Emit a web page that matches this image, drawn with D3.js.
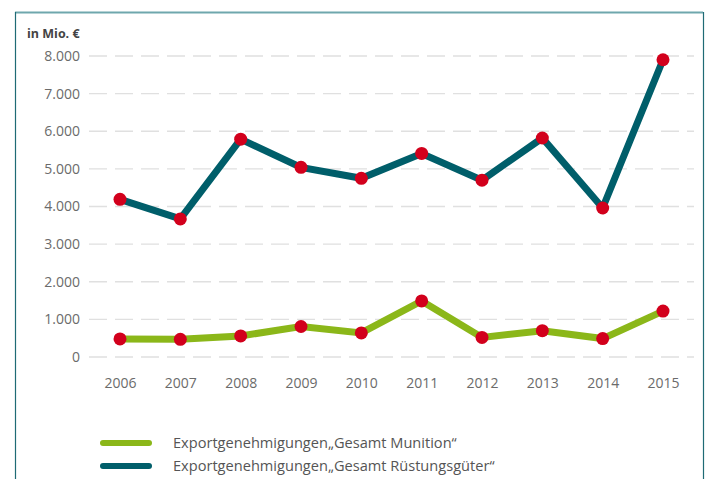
<!DOCTYPE html>
<html>
<head>
<meta charset="utf-8">
<script src="https://cdn.jsdelivr.net/npm/d3@7"></script>
<style>
    body { margin: 0; background: #fff; }
    text { font-family: "Open Sans", "Noto Sans", sans-serif; }
</style>
</head>
<body>
<div id="chart"></div>
<script>
// chart data
var years = ["2006", "2007", "2008", "2009", "2010", "2011", "2012", "2013", "2014", "2015"];
var munition = [480, 470, 560, 810, 640, 1490, 520, 700, 490, 1220];
var ruestung = [4190, 3670, 5790, 5040, 4750, 5410, 4700, 5820, 3960, 7900];
var yTicks = [0, 1000, 2000, 3000, 4000, 5000, 6000, 7000, 8000];
var legendLabels = ["Exportgenehmigungen\u201EGesamt Munition\u201C", "Exportgenehmigungen\u201EGesamt R\u00FCstungsg\u00FCter\u201C"];

(function () {
    var width = 707, height = 479;
    var green = "#8bb719", teal = "#005e6a", red = "#d2001c";

    var svg = d3.select("#chart").append("svg")
        .attr("width", width)
        .attr("height", height);

    // frame
    svg.append("line").attr("x1", 15).attr("x2", 703).attr("y1", 12.5).attr("y2", 12.5)
        .attr("stroke", "#6fa7ad").attr("stroke-width", 2);
    svg.append("line").attr("x1", 15.5).attr("x2", 15.5).attr("y1", 12).attr("y2", height)
        .attr("stroke", "#1f6b75").attr("stroke-width", 1.2);
    svg.append("line").attr("x1", 703.5).attr("x2", 703.5).attr("y1", 12).attr("y2", height)
        .attr("stroke", "#1f6b75").attr("stroke-width", 1.2);

    var x = d3.scalePoint().domain(years).range([120, 663]);
    var y = d3.scaleLinear().domain([0, 8000]).range([357, 56]);

    // grid
    svg.append("g").selectAll("line")
        .data(yTicks)
        .enter().append("line")
        .attr("x1", 89).attr("x2", 694)
        .attr("y1", function (d) { return y(d); })
        .attr("y2", function (d) { return y(d); })
        .attr("stroke", "#e0e0e0")
        .attr("stroke-width", 1.4)
        .attr("stroke-dasharray", "18,8");

    // y axis labels
    var yAxis = d3.axisLeft(y).tickValues(yTicks).tickSize(0).tickPadding(0)
        .tickFormat(function (d) { return d3.format(",")(d).replace(",", "."); });
    var gy = svg.append("g").attr("transform", "translate(80,0)").call(yAxis);
    gy.select(".domain").remove();
    gy.selectAll("text").attr("fill", "#6b6b6b").style("font-size", "14px")
        .style("font-family", "'Open Sans', sans-serif");

    // x axis labels
    var xAxis = d3.axisBottom(x).tickSize(0).tickPadding(0);
    var gx = svg.append("g").attr("transform", "translate(0,378)").call(xAxis);
    gx.select(".domain").remove();
    gx.selectAll("text").attr("fill", "#6b6b6b").style("font-size", "14px")
        .style("font-family", "'Open Sans', sans-serif");

    svg.append("text")
        .attr("x", 27).attr("y", 38)
        .attr("fill", "#444")
        .style("font-size", "12.5px")
        .style("font-weight", "bold")
        .text("in Mio. \u20AC");

    var line = d3.line()
        .x(function (d, i) { return x(years[i]); })
        .y(function (d) { return y(d); });

    var series = [{values: munition, color: green}, {values: ruestung, color: teal}];

    series.forEach(function (s) {
        svg.append("path")
            .datum(s.values)
            .attr("fill", "none")
            .attr("stroke", s.color)
            .attr("stroke-width", 7)
            .attr("stroke-linejoin", "miter")
            .attr("d", line);
    });

    series.forEach(function (s) {
        svg.append("g").selectAll("circle")
            .data(s.values)
            .enter().append("circle")
            .attr("cx", function (d, i) { return x(years[i]); })
            .attr("cy", function (d) { return y(d); })
            .attr("r", 6.5)
            .attr("fill", red);
    });

    // legend
    var legend = svg.append("g");
    series.forEach(function (s, i) {
        var ly = 443 + i * 23;
        legend.append("line")
            .attr("x1", 103).attr("x2", 149)
            .attr("y1", ly).attr("y2", ly)
            .attr("stroke", s.color)
            .attr("stroke-width", 6)
            .attr("stroke-linecap", "round");
        legend.append("text")
            .attr("x", 173).attr("y", ly + 5)
            .attr("fill", "#555")
            .style("font-size", "14.6px")
            .text(legendLabels[i]);
    });
})();
</script>
</body>
</html>
